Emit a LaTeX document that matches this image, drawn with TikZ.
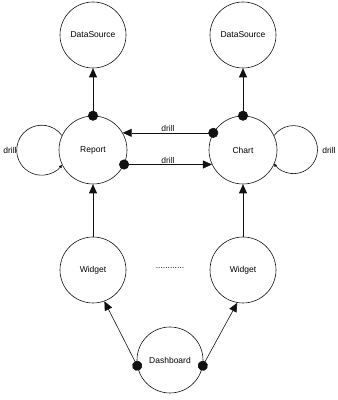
\documentclass[tikz,border=0pt]{standalone}
\usepackage{fontspec}
\setmainfont{Liberation Sans}
\usepackage{xcolor}
\usetikzlibrary{arrows.meta}
\definecolor{dline}{HTML}{111111}
\tikzset{
  state/.style={draw=dline, circle, minimum size=66pt, inner sep=0pt,
                line width=0.6pt, font=\fontsize{8.5}{10}\selectfont},
  statebig/.style={state, minimum size=68pt},
  dotarrow/.style={{Circle[length=10pt]}-{Triangle[length=9pt, width=8pt]},
                   dline, line width=0.6pt, shorten <=-5pt},
  plainarrow/.style={-{Triangle[length=9pt, width=8pt]}, dline, line width=0.6pt},
  looparrow/.style={-{Triangle[length=3pt, width=3pt]}, dline, line width=0.6pt},
  lbl/.style={font=\fontsize{8.5}{10}\selectfont, inner sep=1pt},
}
\begin{document}
\begin{tikzpicture}[x=1pt, y=1pt]
  \useasboundingbox (0,0) rectangle (338,400);

  %% data sources
  \node[state] (ds1) at (93,365) {DataSource};
  \node[state] (ds2) at (243,365) {DataSource};

  %% views
  \node[statebig] (report) at (93,250) {Report};
  \node[statebig] (chart) at (243,250) {Chart};

  %% widgets and dashboard
  \node[state] (widget1) at (93,130) {Widget};
  \node[state] (widget2) at (243,130) {Widget};
  \node[lbl] (gap) at (170,132) {............};
  \node[state] (dash) at (170,40) {Dashboard};

  %% view -> data source
  \draw[dotarrow] (report.north) -- (ds1.south);
  \draw[dotarrow] (chart.north) -- (ds2.south);

  %% drill between views
  \draw[dotarrow] (chart.150) -- node[lbl, above] (d1) {drill} (report.30);
  \draw[dotarrow] (report.-25) -- node[lbl, above] (d2) {drill} (chart.205);

  %% self drill loops
  \draw[looparrow] (report.155) arc[start angle=36, end angle=324, radius=25pt];
  \node[lbl] (d3) at (10,250) {drill};
  \draw[looparrow] (chart.25) arc[start angle=144, end angle=-144, radius=24pt];
  \node[lbl] (d4) at (329,250) {drill};

  %% widget -> view
  \draw[plainarrow] (widget1.north) -- (report.south);
  \draw[plainarrow] (widget2.north) -- (chart.south);

  %% dashboard -> widgets
  \draw[dotarrow] (dash.190) -- (widget1.-70);
  \draw[dotarrow] (dash.-10) -- (widget2.-100);

\end{tikzpicture}
\end{document}
